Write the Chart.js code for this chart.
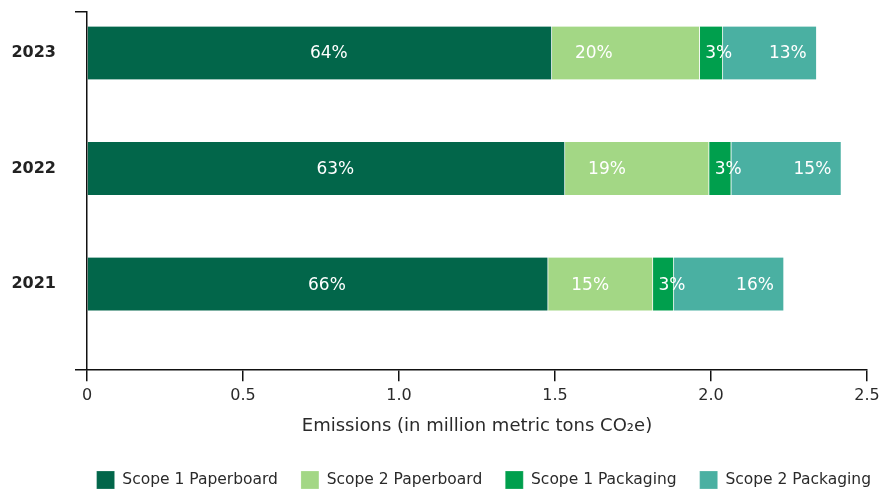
<!DOCTYPE html>
<html>
<head>
<meta charset="utf-8">
<script src="https://cdn.jsdelivr.net/npm/chart.js@4.4.1/dist/chart.umd.min.js"></script>
<style>
  html, body { margin: 0; padding: 0; background: #fff; }
  #wrap { width: 880px; height: 489px; }
</style>
</head>
<body>
<div id="wrap"><canvas id="emissionsChart"></canvas></div>
<script>
const years = [2023, 2022, 2021];
const seriesNames = ['Scope 1 Paperboard', 'Scope 2 Paperboard', 'Scope 1 Packaging', 'Scope 2 Packaging'];
// million metric tons CO2e, per year in the order above
const scope1Paperboard = [1.490, 1.532, 1.478];
const scope2Paperboard = [0.474, 0.462, 0.336];
const scope1Packaging = [0.074, 0.071, 0.067];
const scope2Packaging = [0.301, 0.353, 0.353];
const xTicks = [0, 0.5, 1.0, 1.5, 2.0, 2.5];

const colors = ['#02664a', '#a3d785', '#009f4d', '#4ab0a2'];
// where each series puts its percent label inside the bar segment
const labelAnchor = [
    { from: 'center', dx: 9 },
    { from: 'start', dx: 42 },
    { from: 'start', dx: 19 },
    { from: 'end', dx: -29 }
];

const FONT = '"DejaVu Sans", sans-serif';
const yMin = 2020.255, yMax = 2023.355;

const allSeries = [scope1Paperboard, scope2Paperboard, scope1Packaging, scope2Packaging];
const totals = years.map((_, i) => allSeries.reduce((s, arr) => s + arr[i], 0));

const datasets = allSeries.map((arr, k) => ({
    label: seriesNames[k],
    data: years.map((yr, i) => ({ x: arr[i], y: yr })),
    backgroundColor: colors[k],
    borderColor: 'rgba(255,255,255,0.85)',
    borderWidth: { top: 0, bottom: 0, left: 0, right: 1 },
    borderSkipped: false,
    barThickness: 53
}));

const isYear = (v) => years.indexOf(v) !== -1;

// percent share labels drawn on top of each segment
const percentLabels = {
    id: 'percentLabels',
    afterDatasetsDraw(chart) {
        const ctx = chart.ctx;
        ctx.save();
        ctx.font = '17px ' + FONT;
        ctx.fillStyle = '#ffffff';
        ctx.textAlign = 'center';
        ctx.textBaseline = 'middle';
        chart.data.datasets.forEach((ds, k) => {
            const meta = chart.getDatasetMeta(k);
            meta.data.forEach((bar, i) => {
                const p = bar.getProps(['x', 'base', 'y'], true);
                const a = labelAnchor[k];
                let x = (p.x + p.base) / 2;
                if (a.from === 'start') x = p.base;
                if (a.from === 'end') x = p.x;
                const pct = Math.round(allSeries[k][i] / totals[i] * 100);
                ctx.fillText(pct + '%', x + a.dx, p.y + 1);
            });
        });
        ctx.restore();
    }
};

// push the legend row so it ends near the right edge
const legendShift = {
    id: 'legendShift',
    afterLayout(chart) {
        if (chart.legend) {
            chart.legend.left += 27;
            chart.legend.right += 27;
        }
    }
};

new Chart(document.getElementById('emissionsChart').getContext('2d'), {
    type: 'bar',
    data: { datasets: datasets },
    plugins: [percentLabels, legendShift],
    options: {
        indexAxis: 'y',
        responsive: true,
        maintainAspectRatio: false,
        animation: false,
        layout: { padding: { top: 12, right: 13, left: 8, bottom: -10 } },
        scales: {
            x: {
                type: 'linear',
                stacked: true,
                min: 0,
                max: 2.5,
                afterBuildTicks: (scale) => { scale.ticks = xTicks.map(v => ({ value: v })); },
                afterFit: (scale) => { scale.paddingRight = 0; },
                border: { display: true, color: '#111', width: 1.5 },
                grid: { drawOnChartArea: false, drawTicks: true, tickLength: 11, tickColor: '#111', lineWidth: 1.5 },
                ticks: {
                    color: '#2a2a2a',
                    padding: 5,
                    font: { family: FONT, size: 16 },
                    callback: (v) => v === 0 ? '0' : Number(v).toFixed(1)
                },
                title: {
                    display: true,
                    text: 'Emissions (in million metric tons CO₂e)',
                    color: '#2a2a2a',
                    font: { family: FONT, size: 18 },
                    padding: { top: 5, bottom: 11 }
                }
            },
            y: {
                type: 'linear',
                stacked: true,
                offset: false,
                min: yMin,
                max: yMax,
                afterBuildTicks: (scale) => {
                    scale.ticks = [yMin].concat(years.slice().reverse(), [yMax]).map(v => ({ value: v }));
                },
                afterFit: (scale) => {
                    scale.width = 79;
                    scale.paddingTop = 0;
                    scale.paddingBottom = 0;
                },
                border: { display: true, color: '#111', width: 1.5 },
                grid: {
                    offset: false,
                    drawOnChartArea: false,
                    drawTicks: true,
                    tickLength: 12,
                    lineWidth: 1.5,
                    tickColor: (c) => (c.tick && isYear(c.tick.value)) ? 'rgba(0,0,0,0)' : '#111'
                },
                ticks: {
                    color: '#222',
                    padding: 19,
                    font: { family: FONT, size: 16, weight: 'bold' },
                    callback: (v) => isYear(v) ? String(v) : ''
                }
            }
        },
        plugins: {
            legend: {
                position: 'bottom',
                align: 'end',
                labels: {
                    boxWidth: 18,
                    boxHeight: 18,
                    padding: 23,
                    color: '#2a2a2a',
                    font: { family: FONT, size: 15.5 }
                }
            },
            tooltip: { enabled: false }
        }
    }
});
</script>
</body>
</html>
